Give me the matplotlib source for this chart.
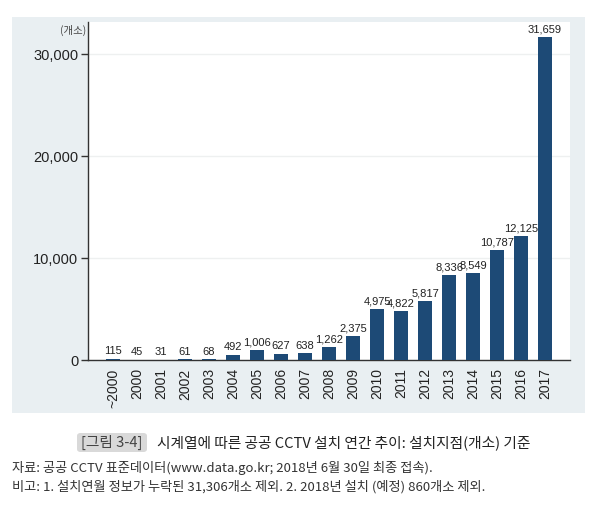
import matplotlib
matplotlib.use("Agg")
import matplotlib.pyplot as plt
from matplotlib.patches import Rectangle, FancyBboxPatch

categories = ["~2000", "2000", "2001", "2002", "2003", "2004", "2005", "2006", "2007",
              "2008", "2009", "2010", "2011", "2012", "2013", "2014", "2015", "2016", "2017"]
values = [115, 45, 31, 61, 68, 492, 1006, 627, 638, 1262, 2375, 4975, 4822, 5817,
          8336, 8549, 10787, 12125, 31659]
yticks = [0, 10000, 20000, 30000]

KR = ['Noto Sans CJK KR', 'DejaVu Sans']
NUM = ['Liberation Sans', 'DejaVu Sans']

fig = plt.figure(figsize=(5.93, 5.05), dpi=100)
fig.patch.set_facecolor('white')

# gray panel
W, H = 593, 505
panel = Rectangle((12 / W, 1 - 413 / H), (585 - 12) / W, (413 - 17) / H,
                  transform=fig.transFigure, facecolor='#e9eff2', edgecolor='none', zorder=-5)
fig.patches.append(panel)

ax = fig.add_axes([88 / W, 1 - 360 / H, (570 - 88) / W, (360 - 22) / H])
ax.set_zorder(5)
ax.set_facecolor('white')
x = list(range(len(categories)))
ax.bar(x, values, width=0.58, color='#1d4a76', zorder=3)
for xi, v in zip(x, values):
    ax.text(xi, v + 250, f"{v:,}", ha='center', va='bottom', fontsize=8,
            family=NUM, color='#222222', zorder=4)

ax.set_xlim(-1.04, len(categories) - 1 + 1.04)
ax.set_ylim(0, 33140)
ax.set_yticks(yticks)
ax.set_yticklabels([f"{t:,}" for t in yticks], family=NUM, fontsize=10.5, color='#222222')
ax.set_xticks(x)
ax.set_xticklabels(categories, rotation=90, family=NUM, fontsize=10, color='#222222')
ax.tick_params(axis='x', length=0, pad=6)
ax.tick_params(axis='y', length=5, width=1, color='#333333', pad=2)
ax.grid(axis='y', color='#eef0f0', linewidth=1, zorder=0)
ax.set_axisbelow(True)
for s in ['top', 'right']:
    ax.spines[s].set_visible(False)
for s in ['left', 'bottom']:
    ax.spines[s].set_color('#333333')
    ax.spines[s].set_linewidth(1)

fig.text(86 / W, 1 - 30 / H, "(개소)", ha='right', va='center', fontsize=7.5,
         family=KR, color='#444444', zorder=10)

# caption box
box = FancyBboxPatch((77 / W, 1 - 452 / H), (147 - 77) / W, (452 - 433) / H,
                     boxstyle="round,pad=0,rounding_size=0.006",
                     transform=fig.transFigure, facecolor='#d9d9d9', edgecolor='none', zorder=-5)
fig.patches.append(box)
fig.text(112 / W, 1 - 442.5 / H, "[그림 3-4]", ha='center', va='center', fontsize=10.6,
         family=KR, color='#444444')
fig.text(157 / W, 1 - 442.5 / H, "시계열에 따른 공공 CCTV 설치 연간 추이: 설치지점(개소) 기준",
         ha='left', va='center', fontsize=10.6, family=KR, color='#222222')

fig.text(12 / W, 1 - 468 / H, "자료: 공공 CCTV 표준데이터(www.data.go.kr; 2018년 6월 30일 최종 접속).",
         ha='left', va='center', fontsize=9.5, family=KR, color='#333333')
fig.text(12 / W, 1 - 487 / H, "비고: 1. 설치연월 정보가 누락된 31,306개소 제외. 2. 2018년 설치 (예정) 860개소 제외.",
         ha='left', va='center', fontsize=9.5, family=KR, color='#333333')

fig.savefig("out.png", dpi=100)
